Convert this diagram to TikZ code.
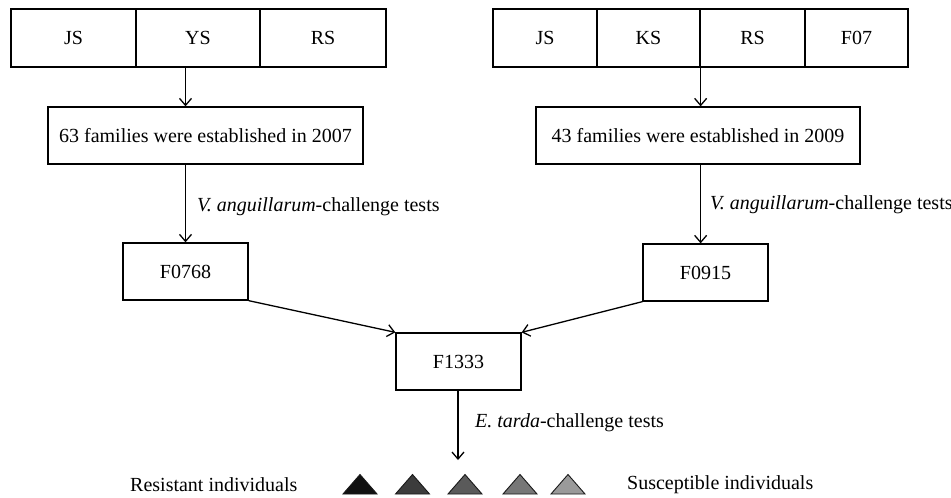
\documentclass[tikz,border=0pt]{standalone}
\usepackage{fontspec}
\setmainfont{Liberation Serif}
\usetikzlibrary{arrows.meta}
\begin{document}
\begin{tikzpicture}[x=1pt,y=-1pt,
  every node/.style={font=\fontsize{20}{24}\selectfont},
  cell/.style={draw, line width=1.3pt, inner sep=0pt, minimum height=58pt, anchor=center},
  box/.style={draw, line width=1.3pt, inner sep=0pt, minimum height=57pt, anchor=center},
  arr/.style={line width=1.3pt, -{Straight Barb[length=7pt,width=12pt,line width=1.3pt]}},
  lbl/.style={anchor=west, inner sep=0pt},
  tri/.style={draw=black!90, line width=0.9pt, line join=miter}]
\useasboundingbox (0,0) rectangle (951,498);
% left top row
\node[cell, minimum width=125pt] (js1) at (73.5,38) {JS};
\node[cell, minimum width=124pt] (ys) at (198,38) {YS};
\node[cell, minimum width=126pt] (rs1) at (323,38) {RS};
% right top row
\node[cell, minimum width=104pt] (js2) at (545,38) {JS};
\node[cell, minimum width=103pt] (ks) at (648.5,38) {KS};
\node[cell, minimum width=105pt] (rs2) at (752.5,38) {RS};
\node[cell, minimum width=103pt] (f07) at (856.5,38) {F07};
% family boxes
\node[box, minimum width=315pt] (fam1) at (205.5,135.5) {63 families were established in 2007};
\node[box, minimum width=324pt] (fam2) at (698,135.5) {43 families were established in 2009};
% F boxes
\node[box, minimum width=125pt] (f0768) at (185.5,271.5) {F0768};
\node[box, minimum width=125pt] (f0915) at (705.5,272.5) {F0915};
\node[box, minimum width=125pt] (f1333) at (458.5,361.5) {F1333};
% arrows
\draw[arr] (ys.south -| f0768.north) -- (fam1.north -| f0768.north);
\draw[arr] (ks.south east) -- (fam2.north -| ks.south east);
\draw[arr] (fam1.south -| f0768.north) -- (f0768.north);
\draw[arr] (fam2.south -| ks.south east) -- (f0915.north -| ks.south east);
\draw[arr] (f0768.south east) -- (f1333.north west);
\draw[arr] (f0915.south west) -- (f1333.north east);
\coordinate (end) at (458,460);
\draw[arr] (f1333.south -| end) -- (end);
% labels
\node[lbl] (l1) at (197,207) {\textit{V. anguillarum}-challenge tests};
\node[lbl] (l2) at (710,205) {\textit{V. anguillarum}-challenge tests};
\node[lbl] (l3) at (475,423) {\textit{E. tarda}-challenge tests};
\node[lbl] (res) at (130,485) {Resistant individuals};
\node[lbl] (sus) at (627,485) {Susceptible individuals};
% triangles
\definecolor{t1}{HTML}{111111}
\definecolor{t2}{HTML}{3C3C3C}
\definecolor{t3}{HTML}{5A5A5A}
\definecolor{t4}{HTML}{777777}
\definecolor{t5}{HTML}{9A9A9A}
\foreach \cx/\col in {360/t1, 412.5/t2, 465/t3, 520/t4, 568/t5}{
  \draw[tri, fill=\col] (\cx-17,494) -- (\cx,474.5) -- (\cx+17,494) -- cycle;
}
\end{tikzpicture}
\end{document}
